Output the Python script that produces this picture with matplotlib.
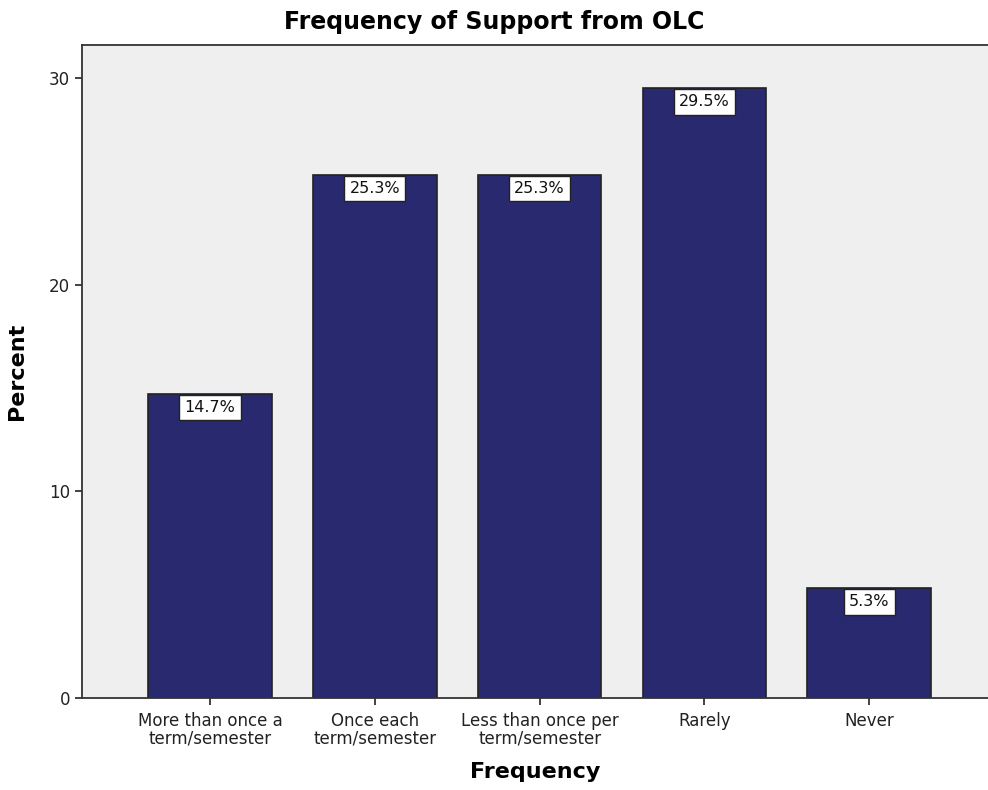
import matplotlib
matplotlib.use("Agg")
import matplotlib.pyplot as plt

categories = ["More than once a\nterm/semester", "Once each\nterm/semester",
              "Less than once per\nterm/semester", "Rarely", "Never"]
percent = [14.7, 25.3, 25.3, 29.5, 5.3]
yticks = [0, 10, 20, 30]

bar_color = "#29296f"
bg_color = "#efefef"

fig = plt.figure(figsize=(9.88, 7.90), dpi=100)
ax = fig.add_axes([0.083, 0.1165, 0.917, 0.8265])
ax.set_facecolor(bg_color)

x = list(range(len(categories)))
bars = ax.bar(x, percent, width=0.75, color=bar_color, edgecolor="#222222", linewidth=1.2, zorder=2)

# value labels sit in white boxes hanging from each bar top
lab_size = 11.5
lab_pad = 0.33
for xi, v in zip(x, percent):
    ax.annotate(f"{v:.1f}%", xy=(xi, v), xytext=(0, -lab_pad * lab_size - 0.5),
                textcoords="offset points",
                ha="center", va="top", fontsize=lab_size, color="#111111",
                bbox=dict(boxstyle=f"square,pad={lab_pad}", fc="white", ec="#222222", lw=1.0),
                zorder=3)

ax.set_xlim(-0.776, 4.72)
ax.set_ylim(0, 31.6)
ax.set_xticks(x)
ax.set_xticklabels(categories, fontsize=12, linespacing=0.95)
ax.set_yticks(yticks)
ax.tick_params(axis="y", labelsize=12, length=5, width=1.2, direction="out", colors="#222222")
ax.tick_params(axis="x", length=5, width=1.2, direction="out", colors="#222222", pad=5)

for side in ["left", "bottom", "top"]:
    ax.spines[side].set_color("#333333")
    ax.spines[side].set_linewidth(1.3)
ax.spines["right"].set_visible(False)

# title is centred on the whole figure, not the axes
fig.suptitle("Frequency of Support from OLC", x=0.5, y=0.972, va="center",
             fontsize=17, fontweight="bold")
ax.set_xlabel("Frequency", fontsize=16, fontweight="bold", labelpad=11)
ax.set_ylabel("Percent", fontsize=16, fontweight="bold", labelpad=16)

fig.savefig("out.png", dpi=100, facecolor="white")
